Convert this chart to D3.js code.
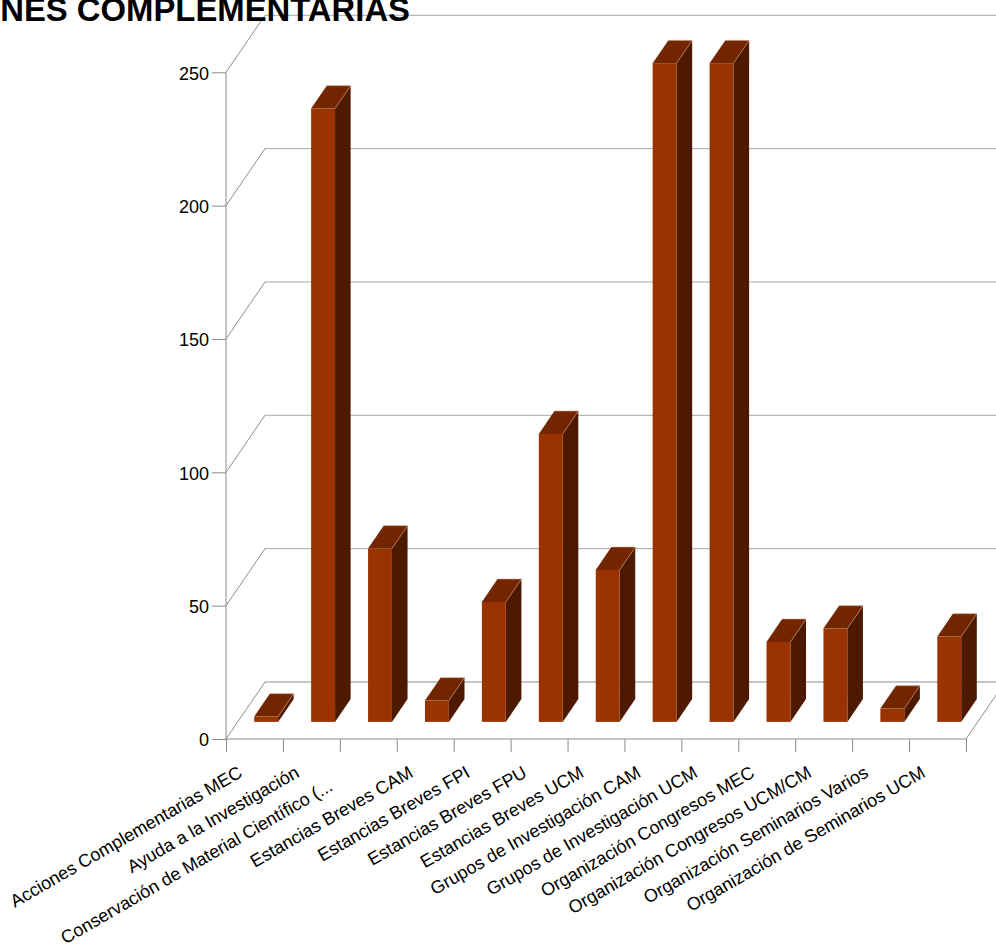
<!DOCTYPE html>
<html>
<head>
<meta charset="utf-8">
<script src="https://cdn.jsdelivr.net/npm/d3@7/dist/d3.min.js"></script>
<style>
  html, body { margin: 0; padding: 0; background: #fff; overflow: hidden; }
  svg { display: block; font-family: "Liberation Sans", Arial, sans-serif; }
</style>
</head>
<body>
<svg id="chart" width="996" height="947"></svg>
<script>
const chartTitle = "ACCIONES COMPLEMENTARIAS";
const categories = [
  "Acciones Complementarias MEC",
  "Ayuda a la Investigación",
  "Conservación de Material Científico (...",
  "Estancias Breves CAM",
  "Estancias Breves FPI",
  "Estancias Breves FPU",
  "Estancias Breves UCM",
  "Grupos de Investigación CAM",
  "Grupos de Investigación UCM",
  "Organización Congresos MEC",
  "Organización Congresos UCM/CM",
  "Organización Seminarios Varios",
  "Organización de Seminarios UCM"
];
const values = [2, 230, 65, 8, 45, 108, 57, 247, 247, 30, 35, 5, 32];
const yTicks = [0, 50, 100, 150, 200, 250];

(function () {
const svg = d3.select("#chart");

// geometry
const pLeft = 226, pRight = 966, pBottom = 739, pTop = 72.3;
const depthX = 39, depthY = -57;
const frontFrac = 0.3, barDepthFrac = 0.4, barWidthFrac = 0.42;

const x = d3.scaleBand().domain(categories).range([pLeft, pRight]).padding(0);
const xi = d3.scaleLinear().domain([0, categories.length]).range([pLeft, pRight]);
const y = d3.scaleLinear().domain([0, 250]).range([pBottom, pTop]);

const grid = svg.append("g");
yTicks.forEach(t => {
  grid.append("line")
    .attr("x1", pLeft + depthX).attr("x2", pRight + depthX + 40)
    .attr("y1", y(t) + depthY).attr("y2", y(t) + depthY)
    .attr("stroke", t === 0 ? "#8c8c8c" : "#a8a8a8").attr("stroke-width", 1);
  grid.append("line")
    .attr("x1", pLeft).attr("y1", y(t))
    .attr("x2", pLeft + depthX).attr("y2", y(t) + depthY)
    .attr("stroke", "#8c8c8c").attr("stroke-width", 1);
});
grid.append("line")
  .attr("x1", pRight).attr("y1", y(0))
  .attr("x2", pRight + depthX).attr("y2", y(0) + depthY)
  .attr("stroke", "#8c8c8c").attr("stroke-width", 1);

// bars
const ox = depthX * frontFrac, oy = depthY * frontFrac;
const dx = depthX * barDepthFrac, dy = depthY * barDepthFrac;
const bw = x.bandwidth() * barWidthFrac;
const bars = svg.append("g");
categories.forEach((c, i) => {
  const x0 = x(c) + (x.bandwidth() - bw) / 2 + ox;
  const x1 = x0 + bw;
  const yb = y(0) + oy;
  const yt = y(values[i]) + oy;
  const g = bars.append("g");
  g.append("path")
    .attr("d", `M${x1},${yb}L${x1},${yt}L${x1 + dx},${yt + dy}L${x1 + dx},${yb + dy}Z`)
    .attr("fill", "#4d1a00");
  g.append("path")
    .attr("d", `M${x0},${yt}L${x1},${yt}L${x1 + dx},${yt + dy}L${x0 + dx},${yt + dy}Z`)
    .attr("fill", "#722600");
  g.append("rect")
    .attr("x", x0).attr("y", yt).attr("width", bw).attr("height", yb - yt)
    .attr("fill", "#993300");
  g.append("path")
    .attr("d", `M${x0 + dx},${yt + dy}L${x1 + dx},${yt + dy}L${x1},${yt}`)
    .attr("fill", "none").attr("stroke", "#c88a70").attr("stroke-width", 0.8)
    .attr("stroke-opacity", 0.8);
});

// y axis
const yAxis = svg.append("g")
  .attr("transform", `translate(${pLeft},0)`)
  .call(d3.axisLeft(y).tickValues(yTicks).tickSize(14).tickPadding(3).tickFormat(d3.format("d")));
yAxis.select(".domain").attr("stroke", "#8c8c8c").attr("d", `M0,${pTop}V${pBottom}`);
yAxis.selectAll(".tick line").attr("stroke", "#8c8c8c");
yAxis.selectAll(".tick text")
  .attr("font-size", 18).attr("font-family", "'Liberation Sans', Arial, sans-serif")
  .attr("fill", "#000").attr("dy", "0.38em");

// x axis (ticks at category boundaries)
const xAxis = svg.append("g")
  .attr("transform", `translate(0,${pBottom})`)
  .call(d3.axisBottom(xi).tickValues(d3.range(categories.length + 1)).tickSize(13).tickFormat(""));
xAxis.select(".domain").attr("stroke", "#8c8c8c").attr("d", `M${pLeft},0H${pRight}`);
xAxis.selectAll(".tick line").attr("stroke", "#8c8c8c");

// category labels (truncated labels sit a little further along their baseline)
svg.append("g").selectAll("text")
  .data(categories)
  .join("text")
  .attr("transform", d => `translate(${x(d) + x.bandwidth() / 2 - 11},${pBottom + 37}) rotate(-30)`)
  .attr("dx", d => d.endsWith("...") ? -27 : 0)
  .attr("text-anchor", "end")
  .attr("font-size", 18)
  .attr("fill", "#000")
  .text(d => d);

// title: size so that its visible tail "NES COMPLEMENTARIAS" spans 0..410
const probe = svg.append("text").attr("font-size", 100).attr("font-weight", "bold")
  .text(chartTitle.slice(chartTitle.indexOf("NES ")));
const w100 = probe.node().getComputedTextLength();
probe.remove();
const titleSize = 100 * 410 / w100;
svg.append("text")
  .attr("x", 410).attr("y", 21)
  .attr("text-anchor", "end")
  .attr("font-size", titleSize)
  .attr("font-weight", "bold")
  .attr("fill", "#000")
  .text(chartTitle);
})();
</script>
</body>
</html>
